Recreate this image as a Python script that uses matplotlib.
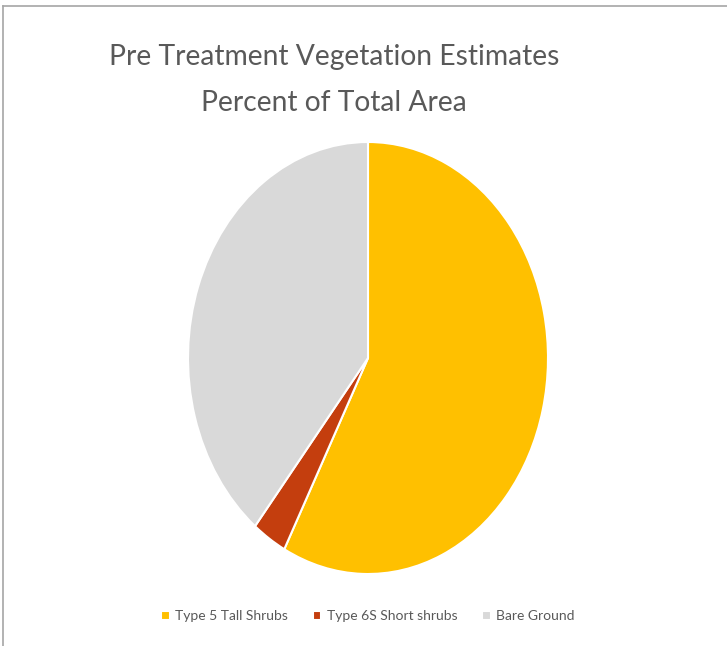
import matplotlib.pyplot as plt

# data
labels = ["Type 5 Tall Shrubs", "Type 6S Short shrubs", "Bare Ground"]
percents = [57.7, 3.1, 39.2]
colors = ["#FFC000", "#C43E0E", "#D9D9D9"]

W, H = 727, 646
fig = plt.figure(figsize=(W / 100, H / 100), dpi=100)

# pie is stretched taller than wide in the original
cx, cy, rx, ry = 368, 358, 180, 216
ax = fig.add_axes([(cx - rx) / W, (H - cy - ry) / H, 2 * rx / W, 2 * ry / H])
wedges, _ = ax.pie(percents, colors=colors, startangle=90, counterclock=False,
                   wedgeprops=dict(edgecolor="white", linewidth=1.5))
ax.set_aspect("auto")
ax.set_xlim(-1, 1)
ax.set_ylim(-1, 1)
ax.axis("off")

# title
fig.text(334 / W, 1 - 57 / H, "Pre Treatment Vegetation Estimates", ha="center", va="center",
         fontsize=20.3, color="#595959", family="Lato")
fig.text(334 / W, 1 - 103 / H, "Percent of Total Area", ha="center", va="center",
         fontsize=20.3, color="#595959", family="Lato")

# legend
leg = fig.legend(wedges, labels, loc="center", bbox_to_anchor=(368 / W, 1 - 616 / H),
                 ncol=3, frameon=False, handlelength=0.6, handleheight=0.6,
                 handletextpad=0.4, columnspacing=1.8,
                 prop=dict(family="Lato", size=10))
for t in leg.get_texts():
    t.set_color("#595959")

# thin grey frame on top and left of the screenshot
fig.add_artist(plt.Line2D([3 / W, 1], [1 - 6 / H, 1 - 6 / H], color="#A6A6A6", lw=1.2,
                          transform=fig.transFigure))
fig.add_artist(plt.Line2D([3 / W, 3 / W], [0, 1 - 6 / H], color="#A6A6A6", lw=1.2,
                          transform=fig.transFigure))

fig.savefig("out.png", dpi=100)
